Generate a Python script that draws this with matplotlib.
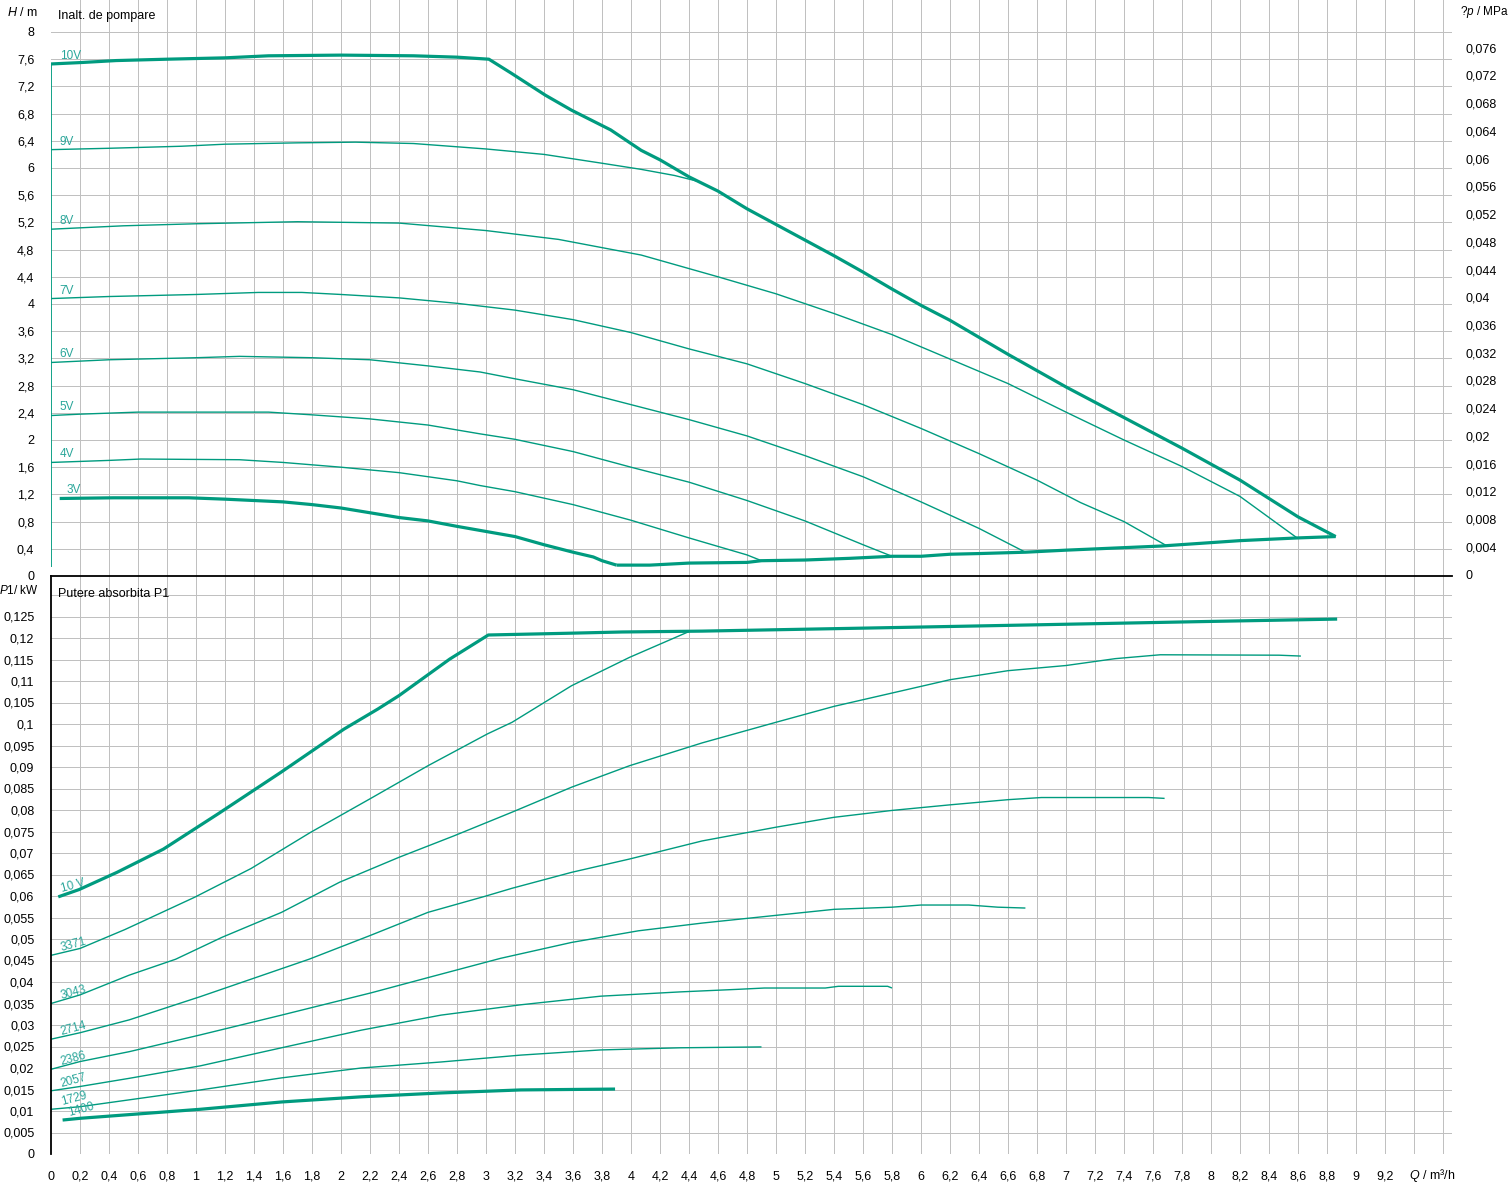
import numpy as np
import matplotlib
matplotlib.use("Agg")
import matplotlib.pyplot as plt
import matplotlib.transforms as mtransforms

plt.rcParams['font.family'] = ['Liberation Sans', 'DejaVu Sans']
plt.rcParams['mathtext.fontset'] = 'custom'
plt.rcParams['mathtext.rm'] = 'Liberation Sans'
plt.rcParams['mathtext.it'] = 'Liberation Sans:italic'

# ---------------- data: head H (m) vs flow Q (m3/h) ----------------
q_10v = [0, 0.2, 0.45, 0.8, 1.2, 1.5, 2.0, 2.5, 2.8, 3.02, 3.17, 3.41, 3.59, 3.86, 4.07, 4.2, 4.4, 4.6,
         4.8, 5.0, 5.2, 5.4, 5.6, 5.8, 6.0, 6.2, 6.4, 6.6, 7.0, 7.4, 7.8, 8.2, 8.6, 8.86]
h_10v = [7.53, 7.55, 7.58, 7.6, 7.62, 7.65, 7.66, 7.65, 7.63, 7.6, 7.4, 7.07, 6.85, 6.56, 6.26, 6.12, 5.87, 5.66,
         5.40, 5.17, 4.94, 4.71, 4.47, 4.22, 3.98, 3.76, 3.51, 3.26, 2.78, 2.33, 1.88, 1.41, 0.87, 0.58]
q_9v = [0, 0.4, 0.9, 1.2, 1.7, 2.1, 2.5, 3.0, 3.4, 3.8, 4.07, 4.3, 4.45]
h_9v = [6.27, 6.29, 6.32, 6.35, 6.37, 6.38, 6.36, 6.28, 6.20, 6.07, 5.98, 5.89, 5.81]
q_8v = [0, 0.5, 1.0, 1.7, 2.4, 3.0, 3.5, 4.07, 4.6, 5.0, 5.4, 5.8, 6.2, 6.6, 7.0, 7.4, 7.8, 8.2, 8.6]
h_8v = [5.10, 5.15, 5.18, 5.21, 5.19, 5.08, 4.95, 4.72, 4.40, 4.15, 3.86, 3.55, 3.19, 2.83, 2.41, 2.0, 1.61, 1.17, 0.55]
q_7v = [0, 0.4, 1.0, 1.43, 1.73, 2.0, 2.4, 2.8, 3.2, 3.6, 4.0, 4.4, 4.8, 5.2, 5.6, 6.0, 6.4, 6.8, 7.1, 7.4, 7.69]
h_7v = [4.08, 4.11, 4.14, 4.17, 4.17, 4.14, 4.09, 4.01, 3.91, 3.77, 3.58, 3.34, 3.12, 2.83, 2.52, 2.17, 1.80, 1.41, 1.08, 0.80, 0.45]
q_6v = [0, 0.4, 1.0, 1.3, 1.8, 2.2, 2.6, 2.96, 3.2, 3.6, 4.0, 4.4, 4.8, 5.2, 5.6, 6.0, 6.4, 6.72]
h_6v = [3.14, 3.18, 3.21, 3.23, 3.21, 3.18, 3.09, 3.00, 2.90, 2.74, 2.52, 2.30, 2.06, 1.77, 1.46, 1.09, 0.70, 0.35]
q_5v = [0, 0.2, 0.6, 1.5, 1.8, 2.2, 2.6, 2.96, 3.2, 3.6, 4.0, 4.4, 4.8, 5.2, 5.6, 5.8]
h_5v = [2.36, 2.38, 2.41, 2.41, 2.37, 2.31, 2.22, 2.09, 2.01, 1.83, 1.60, 1.38, 1.11, 0.81, 0.46, 0.29]
q_4v = [0, 0.4, 0.62, 1.3, 1.6, 2.0, 2.4, 2.8, 2.96, 3.2, 3.6, 4.0, 4.4, 4.8, 4.9]
h_4v = [1.67, 1.70, 1.72, 1.71, 1.67, 1.60, 1.52, 1.40, 1.33, 1.24, 1.05, 0.82, 0.56, 0.31, 0.225]
q_3v = [0.06, 0.43, 0.95, 1.2, 1.6, 1.8, 2.0, 2.2, 2.4, 2.6, 2.8, 2.96, 3.2, 3.4, 3.6, 3.74, 3.8, 3.9]
h_3v = [1.14, 1.15, 1.15, 1.13, 1.09, 1.05, 1.00, 0.93, 0.86, 0.81, 0.73, 0.67, 0.58, 0.46, 0.35, 0.28, 0.225, 0.16]
q_min = [3.9, 4.13, 4.4, 4.8, 4.9, 5.2, 5.51, 5.8, 6.0, 6.2, 6.4, 6.72, 7.0, 7.65, 8.2, 8.6, 8.86]
h_min = [0.16, 0.16, 0.19, 0.20, 0.225, 0.235, 0.26, 0.29, 0.29, 0.32, 0.33, 0.35, 0.38, 0.44, 0.52, 0.56, 0.58]
q_left = [0, 0]
h_left = [7.53, 0.13]

head_labels = ["10V", "9V", "8V", "7V", "6V", "5V", "4V", "3V"]

# ---------------- data: power P1 (kW) vs Q ----------------
pq_10v = [0.05, 0.194, 0.455, 0.775, 1.152, 1.587, 2.02, 2.255, 2.40, 2.75, 3.016, 3.56, 3.94, 4.49, 5.77, 6.85, 7.91, 8.87]
p_10v = [0.0598, 0.0615, 0.0655, 0.0709, 0.0791, 0.0888, 0.0988, 0.1035, 0.1066, 0.1151, 0.1207, 0.1211, 0.1214,
         0.1216, 0.1224, 0.1231, 0.1238, 0.1244]
pq_9v = [0.0, 0.2, 0.51, 0.99, 1.38, 1.79, 2.20, 2.60, 3.01, 3.18, 3.59, 3.99, 4.40]
p_9v = [0.0462, 0.0478, 0.0522, 0.0597, 0.0664, 0.0748, 0.0826, 0.0903, 0.0977, 0.1004, 0.1089, 0.1155, 0.1215]
pq_8v = [0.0, 0.2, 0.54, 0.86, 1.18, 1.59, 1.99, 2.40, 2.78, 3.18, 3.59, 3.99, 4.49, 5.0, 5.4, 5.8, 6.2, 6.6, 7.0,
         7.34, 7.65, 8.47, 8.62]
p_8v = [0.035, 0.037, 0.0416, 0.0453, 0.0504, 0.0562, 0.0632, 0.0690, 0.0740, 0.0795, 0.0853, 0.0903, 0.0956,
        0.1004, 0.1041, 0.1072, 0.1103, 0.1124, 0.1136, 0.1152, 0.1161, 0.1160, 0.1158]
pq_7v = [0.0, 0.2, 0.54, 1.03, 1.78, 2.20, 2.60, 2.99, 3.18, 3.59, 3.99, 4.49, 5.0, 5.4, 5.8, 6.2, 6.6, 6.83, 7.57, 7.68]
p_7v = [0.0267, 0.0282, 0.0312, 0.0366, 0.0453, 0.0508, 0.0562, 0.0599, 0.0618, 0.0655, 0.0686, 0.0728,
        0.0760, 0.0783, 0.0799, 0.0812, 0.0824, 0.0829, 0.0829, 0.0827]
pq_6v = [0.0, 0.2, 0.54, 1.03, 1.59, 2.21, 2.62, 3.10, 3.59, 4.05, 4.49, 5.0, 5.4, 5.8, 6.0, 6.33, 6.53, 6.72]
p_6v = [0.0197, 0.0215, 0.0238, 0.0277, 0.0323, 0.0375, 0.0412, 0.0455, 0.0492, 0.0519, 0.0537, 0.0555,
        0.0569, 0.0574, 0.0579, 0.0579, 0.0574, 0.0572]
pq_5v = [0.0, 0.2, 0.54, 1.03, 1.59, 2.14, 2.69, 3.24, 3.79, 4.34, 4.74, 4.92, 5.34, 5.43, 5.77, 5.8]
p_5v = [0.0147, 0.0157, 0.0176, 0.0205, 0.0247, 0.0288, 0.0323, 0.0347, 0.0367, 0.0377, 0.0383, 0.0386,
        0.0386, 0.0390, 0.0390, 0.0386]
pq_4v = [0.0, 0.2, 1.03, 1.59, 2.14, 2.69, 3.24, 3.79, 4.34, 4.9]
p_4v = [0.0104, 0.0110, 0.0149, 0.0177, 0.0200, 0.0214, 0.0230, 0.0242, 0.0247, 0.0249]
pq_3v = [0.08, 0.2, 1.03, 1.59, 2.14, 2.69, 3.24, 3.89]
p_3v = [0.0079, 0.0083, 0.0104, 0.0121, 0.0133, 0.0142, 0.0149, 0.0151]

power_labels = ["10 V", "3371", "3043", "2714", "2386", "2057", "1729", "1400"]

x_ticks = [round(0.2 * i, 1) for i in range(49)]          # 0 .. 9.6
h_ticks = [round(0.4 * i, 1) for i in range(21)]          # 0 .. 8
p_ticks = [round(0.005 * i, 3) for i in range(27)]        # 0 .. 0.13
dp_ticks = [round(0.004 * i, 3) for i in range(20)]       # 0 .. 0.076 MPa


def fmt(v):
    s = ('%.3f' % v).rstrip('0').rstrip('.')
    return s.replace('.', ',')


GREEN = '#009b7f'
LABEL = '#2aa69a'
GRID = '#c0c0c0'
GLW = 0.72
THICK = 2.3
THIN = 1.0

fig = plt.figure(figsize=(15.12, 11.84), dpi=100)
W, Hh = 1512, 1184
ax1 = fig.add_axes([51 / W, (Hh - 576) / Hh, 1401 / W, 576 / Hh])
ax2 = fig.add_axes([51 / W, (Hh - 1154) / Hh, 1401 / W, 578 / Hh])

XMAX = 1401 / 145.0
H_TOP = 576 / 68.0
P_TOP = 578 / 4300.0

gkw = dict(colors=GRID, lw=GLW, zorder=0, antialiased=False)

# ---------- top panel ----------
ax1.set_xlim(0, XMAX)
ax1.set_ylim(0, H_TOP)
for s in ax1.spines.values():
    s.set_visible(False)
ax1.set_xticks([])
ax1.set_yticks(h_ticks)
ax1.set_yticklabels([fmt(v) for v in h_ticks])
ax1.tick_params(axis='y', length=0, pad=12, labelsize=9)
ax1.vlines(x_ticks[1:], 0, H_TOP, **gkw)
ax1.hlines(h_ticks[1:], 0, XMAX, **gkw)

kw = dict(color=GREEN, solid_joinstyle='round', solid_capstyle='butt', zorder=3)
ax1.plot(q_left, h_left, lw=1.3, **kw)
ax1.plot(q_10v, h_10v, lw=THICK, **kw)
ax1.plot(q_min, h_min, lw=THICK, **kw)
ax1.plot(q_3v, h_3v, lw=THICK, **kw)
for q, h in [(q_9v, h_9v), (q_8v, h_8v), (q_7v, h_7v), (q_6v, h_6v), (q_5v, h_5v), (q_4v, h_4v)]:
    ax1.plot(q, h, lw=THIN, **kw)

head_starts = [h_10v[0], h_9v[0], h_8v[0], h_7v[0], h_6v[0], h_5v[0], h_4v[0], h_3v[0]]
for lab, h0 in zip(head_labels, head_starts):
    x0 = 0.06 if lab != "3V" else 0.11
    ax1.text(x0, h0 + 0.03, lab, color=LABEL, fontsize=8.5, ha='left', va='bottom', zorder=4)

ax1.text(7 / 1401, 1 - 16 / 576, "Inalt. de pompare", transform=ax1.transAxes,
         fontsize=9, ha='left', va='center')
ax1.text(-13 / 1401, 1 - 12 / 576, r"$\mathit{H}$ / m", transform=ax1.transAxes,
         fontsize=9, ha='right', va='center')

# right axis Δp (MPa)
trans = mtransforms.blended_transform_factory(ax1.transAxes, ax1.transData)
for p in dp_ticks:
    ax1.text((1466 - 51) / 1401, p / 0.00981, fmt(p), transform=trans,
             fontsize=9, ha='left', va='center', clip_on=False)
ax1.text((1509 - 51) / 1401, 1 - 12 / 576, r"$\mathit{?p}$ / MPa", transform=ax1.transAxes,
         fontsize=8.5, ha='right', va='center', clip_on=False)

# ---------- bottom panel ----------
ax2.set_xlim(0, XMAX)
ax2.set_ylim(0, P_TOP)
for k in ['right', 'bottom']:
    ax2.spines[k].set_visible(False)
for k in ['left', 'top']:
    ax2.spines[k].set_color('black')
    ax2.spines[k].set_linewidth(1.3)
    ax2.spines[k].set_zorder(5)
ax2.set_xticks(x_ticks)
ax2.set_xticklabels([fmt(v) if v <= 9.2 else '' for v in x_ticks])
ax2.set_yticks(p_ticks)
ax2.set_yticklabels([fmt(v) if v <= 0.125 else '' for v in p_ticks])
ax2.tick_params(axis='x', length=0, pad=12, labelsize=9)
ax2.tick_params(axis='y', length=0, pad=12, labelsize=9)
ax2.vlines(x_ticks[1:], 0, P_TOP, **gkw)
ax2.hlines(p_ticks[1:], 0, XMAX, **gkw)

ax2.plot(pq_10v, p_10v, lw=THICK, **kw)
ax2.plot(pq_3v, p_3v, lw=THICK, **kw)
for q, p in [(pq_9v, p_9v), (pq_8v, p_8v), (pq_7v, p_7v), (pq_6v, p_6v), (pq_5v, p_5v), (pq_4v, p_4v)]:
    ax2.plot(q, p, lw=THIN, **kw)

power_starts = [p_10v[0], p_9v[0], p_8v[0], p_7v[0], p_6v[0], p_5v[0], p_4v[0], p_3v[0]]
for lab, p0 in zip(power_labels, power_starts):
    x0 = 0.08 if lab != "1400" else 0.13
    dy = 0.0003 if lab != "10 V" else 0.0005
    ax2.text(x0, p0 + dy, lab, color=LABEL, fontsize=8.5, ha='left', va='bottom',
             rotation=15, rotation_mode='anchor', zorder=4)

ax2.text(7 / 1401, 1 - 18 / 578, "Putere absorbita P1", transform=ax2.transAxes,
         fontsize=9, ha='left', va='center')
ax2.text(-12 / 1401, 1 - 14 / 578, r"$\mathit{P1}$/ kW", transform=ax2.transAxes,
         fontsize=8.5, ha='right', va='center')
ax2.text((1432 - 51) / 1401, -21 / 578, r"$\mathit{Q}$ / m³/h", transform=ax2.transAxes,
         fontsize=9, ha='center', va='center', clip_on=False)

fig.savefig("out.png", dpi=100, facecolor='white')
